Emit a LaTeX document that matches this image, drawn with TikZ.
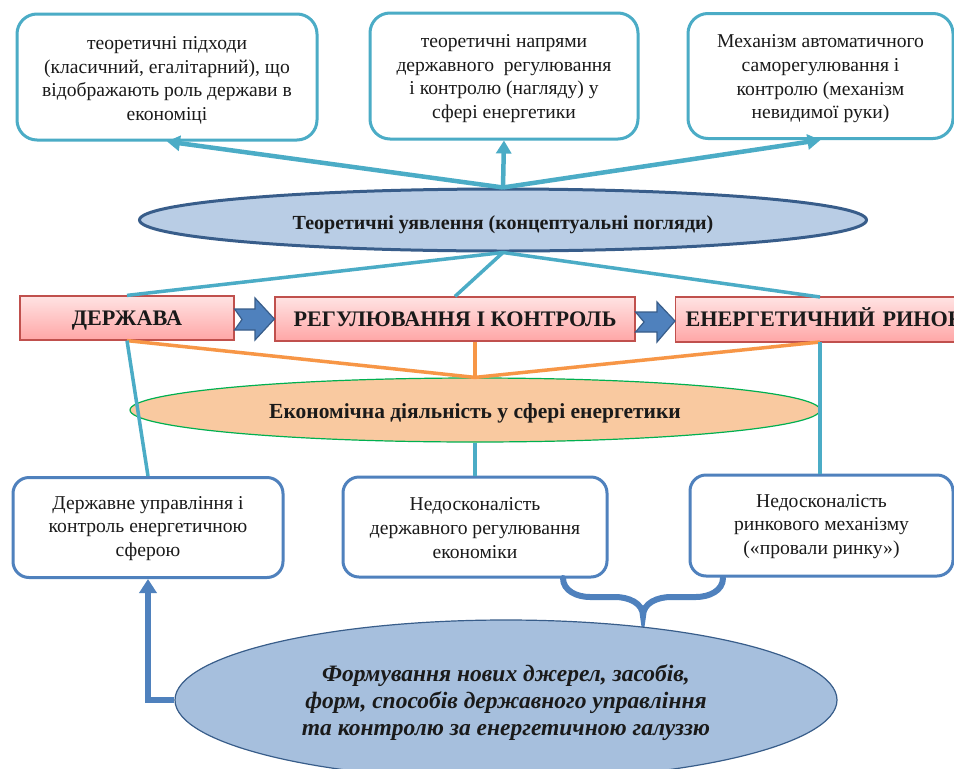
\documentclass[tikz,border=0pt]{standalone}
\usepackage{fontspec}
\setmainfont{Liberation Serif}
\usetikzlibrary{arrows.meta,shapes.geometric,calc}
\definecolor{cyanl}{HTML}{4BACC6}
\definecolor{blueb}{HTML}{4F81BD}
\definecolor{darkb}{HTML}{385D8A}
\definecolor{ell1}{HTML}{B9CDE5}
\definecolor{ell3}{HTML}{A6BFDD}
\definecolor{redb}{HTML}{C0504D}
\definecolor{pinktop}{HTML}{FFE3E3}
\definecolor{pinkbot}{HTML}{FFA6A6}
\definecolor{orangel}{HTML}{F79646}
\definecolor{ell2}{HTML}{F9C9A0}
\definecolor{greenb}{HTML}{00B050}
\definecolor{txt}{HTML}{1A1A1A}
\tikzset{
  topbox/.style={draw=cyanl, line width=3pt, rounded corners=20pt, fill=white, inner sep=0pt},
  botbox/.style={draw=blueb, line width=3pt, rounded corners=16pt, fill=white, inner sep=0pt},
  boxtext/.style={align=center, text=txt, font=\fontsize{19.6}{23.7}\selectfont, inner sep=0pt},
  redbox/.style={draw=redb, line width=1.2pt, top color=pinktop, bottom color=pinkbot, align=center, text=txt, font=\fontsize{22.2}{24}\selectfont\bfseries, inner sep=0pt, text height=17pt, text depth=2.3pt},
  cyanarrow/.style={draw=cyanl, line width=4.5pt, -{Triangle[width=15pt,length=13pt]}},
  cyanline/.style={draw=cyanl, line width=3.5pt},
  orangeline/.style={draw=orangel, line width=3.5pt},
  blockarrow/.style={draw=darkb, line width=1.2pt, fill=blueb},
  bluearrow/.style={draw=blueb, line width=5.5pt, -{Triangle[width=17pt,length=14pt]}},
}
\begin{document}
\begin{tikzpicture}[x=1pt,y=-1pt]
\useasboundingbox (0,0) rectangle (954,769);
\clip (0,0) rectangle (954,769);
\fill[white] (0,0) rectangle (954,769);

% top boxes
\node[topbox, minimum width=300pt, minimum height=126pt] (t1) at (167,77) {};
\node[boxtext] (t1x) at ([yshift=-3.5pt]t1.center)
  {теоретичні підходи\\(класичний, егалітарний), що\\відображають роль держави в\\економіці};
\node[topbox, minimum width=268pt, minimum height=126pt] (t2) at (504,76) {};
\node[boxtext] (t2x) at ([yshift=-2.5pt]t2.center)
  {теоретичні напрями\\державного\ \ регулювання\\і контролю (нагляду) у\\сфері енергетики};
\node[topbox, minimum width=265pt, minimum height=125pt] (t3) at (820.5,76) {};
\node[boxtext] (t3x) at ([yshift=-3pt]t3.center)
  {Механізм автоматичного\\саморегулювання і\\контролю (механізм\\невидимої руки)};

% ellipse 1
\node[ellipse, draw=darkb, line width=3pt, fill=ell1, minimum width=727pt, minimum height=62pt, inner sep=0pt] (e1) at (503,220) {};
\node[text=txt, font=\fontsize{20}{22}\selectfont\bfseries, inner sep=0pt, text height=14pt, text depth=0pt] (e1x) at ([yshift=-2pt]e1.center)
  {Теоретичні уявлення (концептуальні погляди)};

\draw[cyanarrow] (e1.north) -- (t1.south);
\draw[cyanarrow] (e1.north) -- (t2.south);
\draw[cyanarrow] (e1.north) -- (t3.south);

% red boxes
\node[redbox, minimum width=214pt, minimum height=44pt] (r1) at (127,318) {ДЕРЖАВА};
\node[redbox, minimum width=360pt, minimum height=44pt] (r2) at (455,319) {РЕГУЛЮВАННЯ І КОНТРОЛЬ};
\node[redbox, minimum width=300pt, minimum height=45pt, anchor=west, align=left, text width=300pt] (r3) at (675,319.5) {\hspace*{10pt}ЕНЕРГЕТИЧНИЙ РИНОК};

% lines from e1 to red boxes
\draw[cyanline] (e1.south) -- (r1.north);
\draw[cyanline] (e1.south) -- (r2.north);
\coordinate (r3top) at (820,297);
\draw[cyanline] (e1.south) -- (r3top);

% block arrows
\draw[blockarrow] (r1.east |- 0,309) -- (255,309) -- (255,298) -- (r2.west |- 0,319) -- (255,340) -- (255,330) -- (r1.east |- 0,330) -- (242,319.5) -- cycle;
\draw[blockarrow] (r2.east |- 0,312) -- (657,312) -- (657,302) -- (r3.west |- 0,321) -- (657,342) -- (657,332) -- (r2.east |- 0,332) -- (644,322) -- cycle;

% ellipse 2
\node[ellipse, draw=greenb, line width=1.2pt, fill=ell2, minimum width=690pt, minimum height=64pt, inner sep=0pt] (e2) at (475,410) {};
\node[text=txt, font=\fontsize{21.5}{23}\selectfont\bfseries, inner sep=0pt, text height=15pt, text depth=0pt] (e2x) at ([yshift=-1pt]e2.center)
  {Економічна діяльність у сфері енергетики};

% orange lines
\coordinate (r3bot) at (820,342);
\draw[orangeline] (r1.south) -- (e2.north);
\draw[orangeline] (r2.south -| e2.north) -- (e2.north);
\draw[orangeline] (r3bot) -- (e2.north);

% bottom boxes
\node[botbox, minimum width=270pt, minimum height=100pt] (b1) at (148,527.5) {};
\node[boxtext] (b1x) at ([yshift=-1pt]b1.center)
  {Державне управління і\\контроль енергетичною\\сферою};
\node[botbox, minimum width=264pt, minimum height=100pt] (b2) at (475,527) {};
\node[boxtext] (b2x) at ([yshift=-1pt]b2.center)
  {Недосконалість\\державного регулювання\\економіки};
\node[botbox, minimum width=263pt, minimum height=101pt] (b3) at (821.5,525.5) {};
\node[boxtext] (b3x) at ([yshift=-1pt]b3.center)
  {Недосконалість\\ринкового механізму\\(«провали ринку»)};

% cyan lines down
\draw[cyanline] (r1.south) -- (b1.north);
\draw[cyanline] (e2.south) -- (b2.north);
\draw[cyanline] (r3bot) -- (r3bot |- b3.north);

% brace
\coordinate (brl) at (563,578);
\coordinate (brr) at (723,578);
\coordinate (brt) at (643,616);
\draw[blueb, line width=6pt, line cap=round]
  (brl) to[out=-90,in=180] (590,597) -- (615,597) to[out=0,in=90] (brt)
  to[out=90,in=180] (671,597) -- (696,597) to[out=0,in=-90] (brr);

% bottom ellipse
\node[ellipse, draw=darkb, line width=1.2pt, fill=ell3, minimum width=662pt, minimum height=160pt, inner sep=0pt] (e3) at (506,700) {};
\node[align=center, text=txt, font=\fontsize{23.5}{27}\selectfont\bfseries\itshape, inner sep=0pt] (e3x) at ([yshift=-2.5pt]e3.center)
  {Формування нових джерел, засобів,\\форм, способів державного управління\\та контролю за енергетичною галуззю};

\draw[bluearrow] (e3.west) -| (b1.south);
\end{tikzpicture}
\end{document}
